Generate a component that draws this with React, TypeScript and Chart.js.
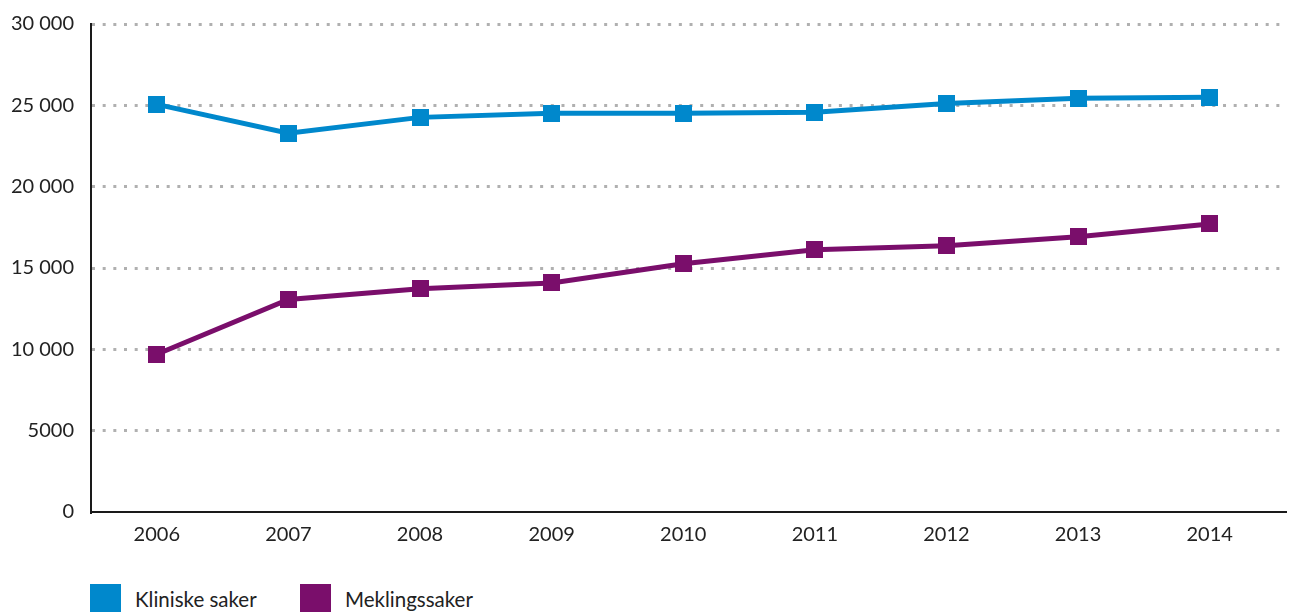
import React, { useEffect, useRef } from "react";
import { Chart, registerables } from "chart.js";

Chart.register(...registerables);

const years = [2006, 2007, 2008, 2009, 2010, 2011, 2012, 2013, 2014];
const kliniske = [25060, 23280, 24260, 24510, 24510, 24580, 25120, 25430, 25490];
const mekling = [9700, 13070, 13730, 14080, 15260, 16120, 16370, 16920, 17710];
const seriesNames = ["Kliniske saker", "Meklingssaker"];
const seriesColors = ["#0088CC", "#7A0E6B"];
const yTicks = [0, 5000, 10000, 15000, 20000, 25000, 30000];

const FONT = "Lato, 'Open Sans', sans-serif";

function fmt(v: number): string {
  if (v >= 10000) {
    const s = String(v);
    return s.slice(0, s.length - 3) + " " + s.slice(s.length - 3);
  }
  return String(v);
}

function squareMarker(color: string, side: number): HTMLCanvasElement {
  const c = document.createElement("canvas");
  c.width = side;
  c.height = side;
  const g = c.getContext("2d");
  if (g) {
    g.fillStyle = color;
    g.fillRect(0, 0, side, side);
  }
  return c;
}

export default function App() {
  const ref = useRef<HTMLCanvasElement | null>(null);

  useEffect(() => {
    if (!ref.current) return;
    const series = [kliniske, mekling];
    const chart = new Chart(ref.current, {
      type: "line",
      data: {
        datasets: series.map((vals, i) => ({
          label: seriesNames[i],
          data: years.map((yr, j) => ({ x: yr, y: vals[j] })),
          borderColor: seriesColors[i],
          backgroundColor: seriesColors[i],
          borderWidth: 5,
          pointStyle: squareMarker(seriesColors[i], 17),
          pointRadius: 0.5,
          pointBorderWidth: 0,
          pointBackgroundColor: seriesColors[i],
          tension: 0,
          fill: false,
          clip: false,
        })),
      },
      options: {
        animation: false,
        responsive: false,
        devicePixelRatio: 1,
        layout: { padding: { top: 24, left: 0, right: 0, bottom: 0 } },
        plugins: {
          legend: { display: false },
          tooltip: { enabled: false },
        },
        scales: {
          x: {
            type: "linear",
            min: 2005.5,
            max: 2014.58,
            grid: { display: false, drawTicks: false },
            border: { display: true, color: "#1a1a1a", width: 2 },
            ticks: {
              stepSize: 1,
              includeBounds: false,
              autoSkip: false,
              maxRotation: 0,
              padding: 11,
              color: "#222",
              font: { family: FONT, size: 20 },
              callback: (v: any) => (years.includes(Number(v)) ? String(v) : ""),
            },
            afterFit: (scale: any) => {
              scale.height = 48;
              scale.paddingLeft = 0;
              scale.paddingRight = 0;
            },
          },
          y: {
            min: 0,
            max: 30000,
            grid: {
              drawTicks: false,
              lineWidth: 3,
              color: (ctx: any) => (ctx.tick && ctx.tick.value === 0 ? "rgba(0,0,0,0)" : "#b0b0b0"),
            },
            border: { display: true, color: "#1a1a1a", width: 2, dash: [3, 7.67] },
            ticks: {
              stepSize: 5000,
              padding: 17,
              color: "#222",
              font: { family: FONT, size: 20 },
              callback: (v: any) => (yTicks.includes(Number(v)) ? fmt(Number(v)) : ""),
            },
            afterFit: (scale: any) => {
              scale.width = 91;
              scale.paddingTop = 0;
              scale.paddingBottom = 0;
            },
          },
        },
      },
    });
    return () => chart.destroy();
  }, []);

  return (
    <div
      style={{
        position: "fixed",
        left: 0,
        top: 0,
        width: 1290,
        height: 612,
        overflow: "hidden",
        background: "#fff",
      }}
    >
      <canvas ref={ref} width={1290} height={560} style={{ display: "block" }} />
      {seriesNames.map((name, i) => (
        <div
          key={name}
          style={{
            position: "absolute",
            top: 584,
            left: i === 0 ? 90 : 300,
            display: "flex",
            alignItems: "center",
            fontFamily: FONT,
            fontSize: 20.5,
            color: "#222",
            lineHeight: "31px",
            whiteSpace: "nowrap",
          }}
        >
          <span
            style={{
              display: "inline-block",
              width: 31,
              height: 31,
              background: seriesColors[i],
              marginRight: 14,
            }}
          />
          {name}
        </div>
      ))}
    </div>
  );
}
